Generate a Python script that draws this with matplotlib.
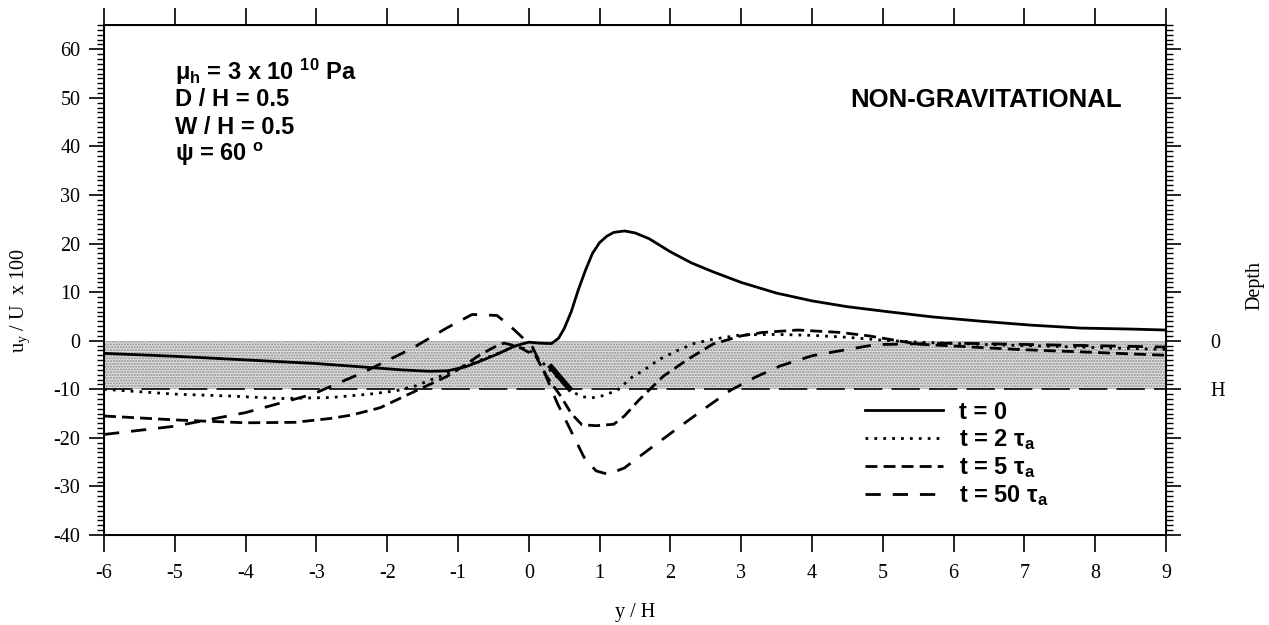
import matplotlib
matplotlib.use('Agg')
import matplotlib.pyplot as plt
from matplotlib.ticker import MultipleLocator

plt.rcParams['font.family'] = ['Liberation Serif', 'DejaVu Serif']
plt.rcParams['axes.unicode_minus'] = False
plt.rcParams['mathtext.fontset'] = 'custom'
plt.rcParams['mathtext.rm'] = 'Liberation Serif'
plt.rcParams['mathtext.it'] = 'Liberation Serif:italic'
plt.rcParams['mathtext.sf'] = 'Liberation Sans:bold'
plt.rcParams['hatch.linewidth'] = 1.0

# surface displacement profiles (y/H vs u_y/U x 100)
t0_y = [-6, -5, -4.2, -3, -2.35, -1.8, -1.4, -1.15, -0.9, -0.7, -0.45, -0.2, 0.0, 0.15, 0.32, 0.42,
        0.5, 0.6, 0.7, 0.8, 0.9, 1.0, 1.1, 1.2, 1.35, 1.5, 1.7, 2.0, 2.3, 2.6, 3.0, 3.5, 4.0, 4.5,
        5.0, 5.7, 6.4, 7.1, 7.8, 8.5, 9.0]
t0_u = [-2.6, -3.2, -3.8, -4.7, -5.4, -6.0, -6.3, -6.2, -5.4, -4.3, -2.8, -1.1, -0.3, -0.5, -0.6, 0.5,
        2.5, 6.0, 10.5, 14.5, 18.0, 20.2, 21.5, 22.3, 22.6, 22.2, 21.0, 18.3, 16.0, 14.2, 12.0, 9.8, 8.2, 7.0,
        6.1, 4.9, 4.0, 3.2, 2.6, 2.4, 2.2]

t2_y = [-6, -5, -4.2, -3.5, -2.8, -2.25, -1.87, -1.6, -1.3, -1.0, -0.7, -0.4, -0.2, 0.0, 0.2, 0.4,
        0.6, 0.75, 0.88, 1.05, 1.25, 1.45, 1.65, 1.85, 2.1, 2.35, 2.6, 3.0, 3.5, 4.0, 4.5, 5.0, 5.5,
        6.5, 7.5, 9.0]
t2_u = [-10.0, -11.0, -11.4, -11.9, -11.7, -11.0, -10.3, -9.3, -7.6, -5.8, -4.1, -2.4, -1.2, -1.8, -4.6, -7.5,
        -10.4, -11.5, -11.8, -11.3, -10.2, -7.6, -5.8, -3.8, -2.0, -0.5, 0.3, 1.2, 1.3, 1.1, 0.7, 0.1, -0.3,
        -0.8, -1.2, -1.8]

t5_y = [-6, -5, -4.0, -3.3, -2.8, -2.5, -2.1, -1.65, -1.15, -0.9, -0.7, -0.5, -0.35, -0.15, 0.1, 0.25,
        0.45, 0.6, 0.75, 0.95, 1.2, 1.35, 1.55, 1.9, 2.25, 2.6, 3.0, 3.3, 3.8, 4.4, 4.8, 5.5, 6.9, 7.8, 9.0]
t5_u = [-15.5, -16.3, -16.9, -16.8, -16.0, -15.3, -13.8, -10.7, -7.3, -5.0, -3.0, -1.4, -0.5, -1.2, -3.2, -7.3,
        -11.4, -15.0, -17.3, -17.5, -17.2, -15.5, -12.3, -7.3, -3.8, -0.7, 1.0, 1.7, 2.2, 1.7, 1.0, -0.7, -1.8,
        -2.3, -3.0]

t50_y = [-6, -5, -4.0, -3.05, -2.35, -1.65, -1.15, -0.8, -0.45, -0.27, -0.1, 0.05, 0.2, 0.4, 0.6, 0.78,
         0.95, 1.12, 1.35, 1.75, 2.15, 2.5, 2.85, 3.2, 3.55, 4.0, 4.5, 4.9, 6.0, 7.5, 9.0]
t50_u = [-19.3, -17.6, -14.8, -11.0, -6.6, -1.6, 2.7, 5.4, 5.2, 3.1, 0.8, -1.3, -5.8, -12.8, -18.7, -24.0,
         -26.8, -27.5, -26.2, -21.8, -17.5, -13.8, -10.2, -7.5, -5.2, -3.1, -1.8, -0.8, -0.5, -0.9, -1.3]

labels = [r't = 0', r't = 2 $\mathsf{\tau_a}$', r't = 5 $\mathsf{\tau_a}$', r't = 50 $\mathsf{\tau_a}$']

# layer (depth 0 .. H) and fault trace
layer_top = 0
layer_bottom = -10
fault_y = [0.29, 0.60]
fault_u = [-5.0, -10.3]

params = [r'$\mathsf{\mu_h}$ = 3 x 10 $\mathsf{^{10}}$ Pa', 'D / H = 0.5', 'W / H = 0.5',
          r'$\mathsf{\psi}$ = 60 $\mathsf{^o}$']

fig = plt.figure(figsize=(12.69, 6.25), dpi=100)
ax = fig.add_axes([104 / 1269, 1 - 535 / 625, 1062 / 1269, 510 / 625])

ax.axhspan(layer_bottom, layer_top, facecolor='#dedede', edgecolor='#8c8c8c', hatch='......',
           linewidth=0, zorder=0)
ax.axhline(layer_bottom, color='black', lw=1.2, linestyle=(0, (17, 5.5)), zorder=1)

lw = 2.0
ax.plot(t0_y, t0_u, color='black', lw=lw, label=labels[0])
ax.plot(t2_y, t2_u, color='black', lw=lw, linestyle=(0, (1, 2.2)), label=labels[1])
ax.plot(t5_y, t5_u, color='black', lw=lw, linestyle=(0, (4.3, 2.2)), label=labels[2])
ax.plot(t50_y, t50_u, color='black', lw=lw, linestyle=(0, (5.5, 4.3)), label=labels[3])
ax.plot(fault_y, fault_u, color='black', lw=4, solid_capstyle='butt')

ax.set_xlim(-6, 9)
ax.set_ylim(-40, 65)
ax.set_xticks(range(-6, 10))
ax.set_yticks(range(-40, 61, 10))
ax.yaxis.set_minor_locator(MultipleLocator(1))
ax.tick_params(axis='x', which='major', direction='out', length=12, width=1.2, top=True,
               labelsize=14.5, pad=9)
ax.tick_params(axis='y', which='major', direction='out', length=11, width=1.2, labelsize=14.5, pad=6)
ax.tick_params(axis='y', which='minor', direction='out', length=5, width=1)
for s in ax.spines.values():
    s.set_linewidth(1.4)

ax2 = ax.twinx()
ax2.set_ylim(-40, 65)
ticks_r = list(range(-40, 61, 10))
ax2.set_yticks(ticks_r)
ax2.set_yticklabels(['H' if t == -10 else ('0' if t == 0 else '') for t in ticks_r])
ax2.yaxis.set_minor_locator(MultipleLocator(1))
ax2.tick_params(axis='y', which='major', direction='out', length=11, width=1.2, labelsize=14.5, pad=21)
ax2.tick_params(axis='y', which='minor', direction='out', length=5, width=1)
ax2.set_ylabel('Depth', fontsize=14.5)
ax2.yaxis.set_label_coords(1.075, 0.49)

ax.set_xlabel('y / H', fontsize=14.5, labelpad=14)
ax.set_ylabel(r'u$_\mathrm{y}$ / U  x 100', fontsize=14.5)
ax.yaxis.set_label_coords(-0.068, 0.46)

for i, p in enumerate(params):
    ax.text(175 / 1269, 1 - (72 + 27.5 * i) / 625, p, transform=fig.transFigure,
            fontsize=17, fontweight='bold', family='Liberation Sans', va='center', ha='left')

ax.text(1122 / 1269, 1 - 100 / 625, 'NON-GRAVITATIONAL', transform=fig.transFigure,
        fontsize=18.5, fontweight='bold', family='Liberation Sans', va='center', ha='right')

leg = ax.legend(loc='upper left', bbox_to_anchor=(0.7166, 0.2635), frameon=False,
                handlelength=3.3, handletextpad=0.7, labelspacing=0.14, borderpad=0, borderaxespad=0,
                prop={'family': 'Liberation Sans', 'weight': 'bold', 'size': 17})

fig.savefig('out.png', dpi=100)
